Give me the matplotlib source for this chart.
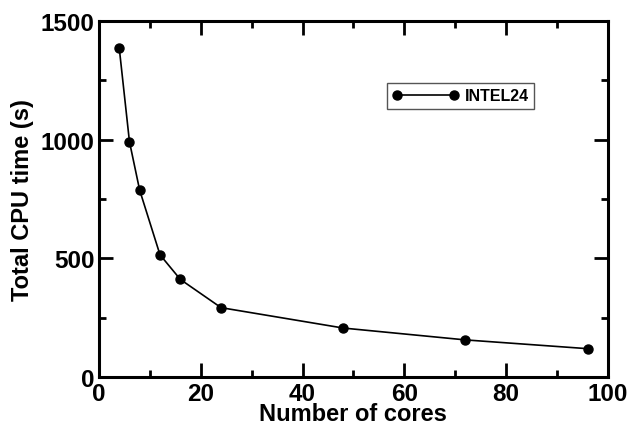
import matplotlib
matplotlib.use("Agg")
import matplotlib.pyplot as plt
from matplotlib.ticker import MultipleLocator

cores = [4, 6, 8, 12, 16, 24, 48, 72, 96]
cpu_time = [1386, 992, 788, 515, 411, 292, 206, 156, 119]
series_label = "INTEL24"

plt.rcParams['font.family'] = ['Liberation Sans', 'DejaVu Sans']
plt.rcParams['font.weight'] = 'bold'

fig = plt.figure(figsize=(6.3, 4.27), dpi=100)
ax = fig.add_axes([0.157, 0.115, 0.808, 0.833])

ax.plot(cores, cpu_time, color='black', lw=1.2, marker='o', ms=6.5,
        label=series_label)

ax.set_xlim(0, 100)
ax.set_ylim(0, 1500)
ax.xaxis.set_major_locator(MultipleLocator(20))
ax.xaxis.set_minor_locator(MultipleLocator(10))
ax.yaxis.set_major_locator(MultipleLocator(500))
ax.yaxis.set_minor_locator(MultipleLocator(250))

ax.tick_params(which='both', direction='in', top=True, right=True, width=2)
ax.tick_params(which='major', length=10, labelsize=17.5)
ax.tick_params(axis='x', which='major', pad=4)
ax.tick_params(axis='y', which='major', pad=3)
ax.tick_params(which='minor', length=5)
for s in ax.spines.values():
    s.set_linewidth(2.2)
for lbl in ax.get_xticklabels() + ax.get_yticklabels():
    lbl.set_fontweight('bold')

ax.set_xlabel("Number of cores", fontsize=17, fontweight='bold', labelpad=-2.5)
ax.set_ylabel("Total CPU time (s)", fontsize=17, fontweight='bold', labelpad=5)

leg = ax.legend(loc='upper left', bbox_to_anchor=(0.566, 0.826), numpoints=2,
                fancybox=False, framealpha=1, edgecolor='#555555',
                prop={'weight': 'bold', 'size': 11.5}, handlelength=4.15,
                borderpad=0.33, handletextpad=0.39, borderaxespad=0)
leg.get_frame().set_linewidth(1.0)

fig.savefig("out.png", dpi=100)
